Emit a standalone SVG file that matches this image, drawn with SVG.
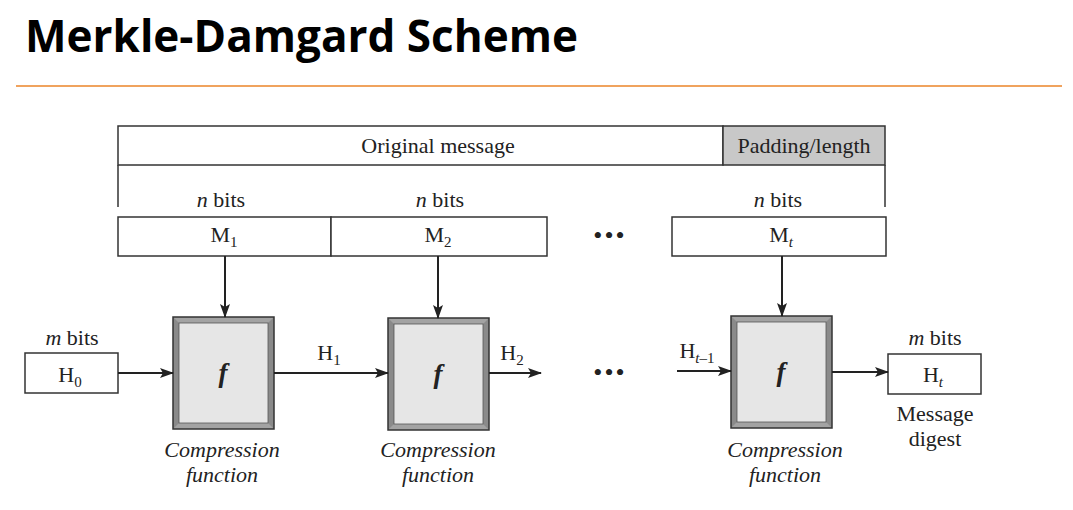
<svg xmlns="http://www.w3.org/2000/svg" width="1073" height="510" viewBox="0 0 1073 510">
<defs>
<marker id="arr" viewBox="0 0 14 10" refX="13" refY="5" markerWidth="14" markerHeight="10" markerUnits="userSpaceOnUse" orient="auto">
<path d="M0,0 L14,5 L0,10 L3,5 Z" fill="#222"/>
</marker>
</defs>
<style>
.t{font-family:"Liberation Serif","Times New Roman",serif;font-size:22px;fill:#222;text-anchor:middle}
.i{font-style:italic}
.sub{font-size:15px}
.fn{font-family:"Liberation Serif","Times New Roman",serif;font-style:italic;font-weight:bold;font-size:27px;fill:#222;text-anchor:middle}
.box{fill:#fff;stroke:#333;stroke-width:1.5}
.ln{stroke:#222;stroke-width:2;fill:none}
.thin{stroke:#333;stroke-width:1.5;fill:none}
.bev1{fill:#a3a3a3}
.bev2{fill:#8a8a8a}
.core{fill:#e6e6e6;stroke:#555;stroke-width:0.8}
.outer{fill:none;stroke:#333;stroke-width:1.5}
.dots{font-family:"Liberation Serif",serif;font-size:26px;fill:#222;text-anchor:middle;letter-spacing:2px}
</style>
<rect width="1073" height="510" fill="#fff"/>
<text x="25" y="52" font-family="'Open Sans','Liberation Sans',sans-serif" font-weight="700" font-size="44" textLength="553" lengthAdjust="spacingAndGlyphs" fill="#000">Merkle-Damgard Scheme</text>
<line x1="16" y1="86" x2="1062" y2="86" stroke="#F0A35E" stroke-width="2"/>

<g id="message">
<rect x="118" y="126" width="605" height="39" class="box"/>
<text x="438" y="153" class="t">Original message</text>
</g>
<g id="padding">
<rect x="723" y="126" width="162" height="39" fill="#c8c8c8" stroke="#333" stroke-width="1.5"/>
<text x="804" y="153" class="t">Padding/length</text>
</g>
<g id="brackets">
<line x1="118" y1="165" x2="118" y2="207" class="thin"/>
<line x1="885" y1="165" x2="885" y2="207" class="thin"/>
</g>

<g id="M1">
<text x="221" y="207" class="t"><tspan class="i">n</tspan> bits</text>
<rect x="118" y="217" width="213" height="39" class="box"/>
<text x="224" y="242" class="t">M<tspan class="sub" dy="5">1</tspan></text>
</g>
<g id="M2">
<text x="440" y="207" class="t"><tspan class="i">n</tspan> bits</text>
<rect x="331" y="217" width="216" height="39" class="box"/>
<text x="438" y="242" class="t">M<tspan class="sub" dy="5">2</tspan></text>
</g>
<g id="Mt">
<text x="778" y="207" class="t"><tspan class="i">n</tspan> bits</text>
<rect x="672" y="217" width="214" height="39" class="box"/>
<text x="781" y="242" class="t">M<tspan class="sub i" dy="5">t</tspan></text>
</g>
<g id="dots-top"><text x="610" y="244" class="dots">•••</text></g>
<g id="dots-mid"><text x="610" y="381" class="dots">•••</text></g>

<g id="H0">
<text x="72" y="345" class="t"><tspan class="i">m</tspan> bits</text>
<rect x="25" y="353" width="93" height="40" class="box"/>
<text x="70" y="382" class="t">H<tspan class="sub" dy="5">0</tspan></text>
</g>

<g id="f1">
<rect x="173" y="317" width="101" height="112" class="bev2"/>
<polygon points="173,317 274,317 268,323 179,323" class="bev1"/>
<polygon points="173,429 274,429 268,423 179,423" class="bev1"/>
<rect x="179" y="323" width="89" height="100" class="core"/>
<rect x="173" y="317" width="101" height="112" class="outer"/>
<text x="223" y="382" class="fn">f</text>
<text x="222" y="457" class="t i">Compression</text>
<text x="222" y="482" class="t i">function</text>
</g>
<g id="f2">
<rect x="388" y="318" width="101" height="112" class="bev2"/>
<polygon points="388,318 489,318 483,324 394,324" class="bev1"/>
<polygon points="388,430 489,430 483,424 394,424" class="bev1"/>
<rect x="394" y="324" width="89" height="100" class="core"/>
<rect x="388" y="318" width="101" height="112" class="outer"/>
<text x="438" y="383" class="fn">f</text>
<text x="438" y="457" class="t i">Compression</text>
<text x="438" y="482" class="t i">function</text>
</g>
<g id="f3">
<rect x="731" y="316" width="101" height="112" class="bev2"/>
<polygon points="731,316 832,316 826,322 737,322" class="bev1"/>
<polygon points="731,428 832,428 826,422 737,422" class="bev1"/>
<rect x="737" y="322" width="89" height="100" class="core"/>
<rect x="731" y="316" width="101" height="112" class="outer"/>
<text x="781" y="381" class="fn">f</text>
<text x="785" y="457" class="t i">Compression</text>
<text x="785" y="482" class="t i">function</text>
</g>

<g id="Ht">
<text x="935" y="345" class="t"><tspan class="i">m</tspan> bits</text>
<rect x="888" y="354" width="93" height="40" class="box"/>
<text x="933" y="382" class="t">H<tspan class="sub i" dy="5">t</tspan></text>
<text x="935" y="421" class="t">Message</text>
<text x="935" y="446" class="t">digest</text>
</g>

<g id="connectors">
<line x1="225" y1="256" x2="225" y2="317" class="ln" marker-end="url(#arr)"/>
<line x1="438" y1="256" x2="438" y2="318" class="ln" marker-end="url(#arr)"/>
<line x1="782" y1="256" x2="782" y2="316" class="ln" marker-end="url(#arr)"/>
<line x1="118" y1="373" x2="173" y2="373" class="ln" marker-end="url(#arr)"/>
<line x1="274" y1="373" x2="388" y2="373" class="ln" marker-end="url(#arr)"/>
<line x1="489" y1="373" x2="541" y2="373" class="ln" marker-end="url(#arr)"/>
<line x1="677" y1="371" x2="731" y2="371" class="ln" marker-end="url(#arr)"/>
<line x1="832" y1="372" x2="888" y2="372" class="ln" marker-end="url(#arr)"/>
<text x="329" y="360" class="t">H<tspan class="sub" dy="5">1</tspan></text>
<text x="512" y="360" class="t">H<tspan class="sub" dy="5">2</tspan></text>
<text x="697" y="358" class="t">H<tspan class="sub i" dy="5">t</tspan><tspan class="sub" dy="0">–1</tspan></text>
</g>
</svg>
